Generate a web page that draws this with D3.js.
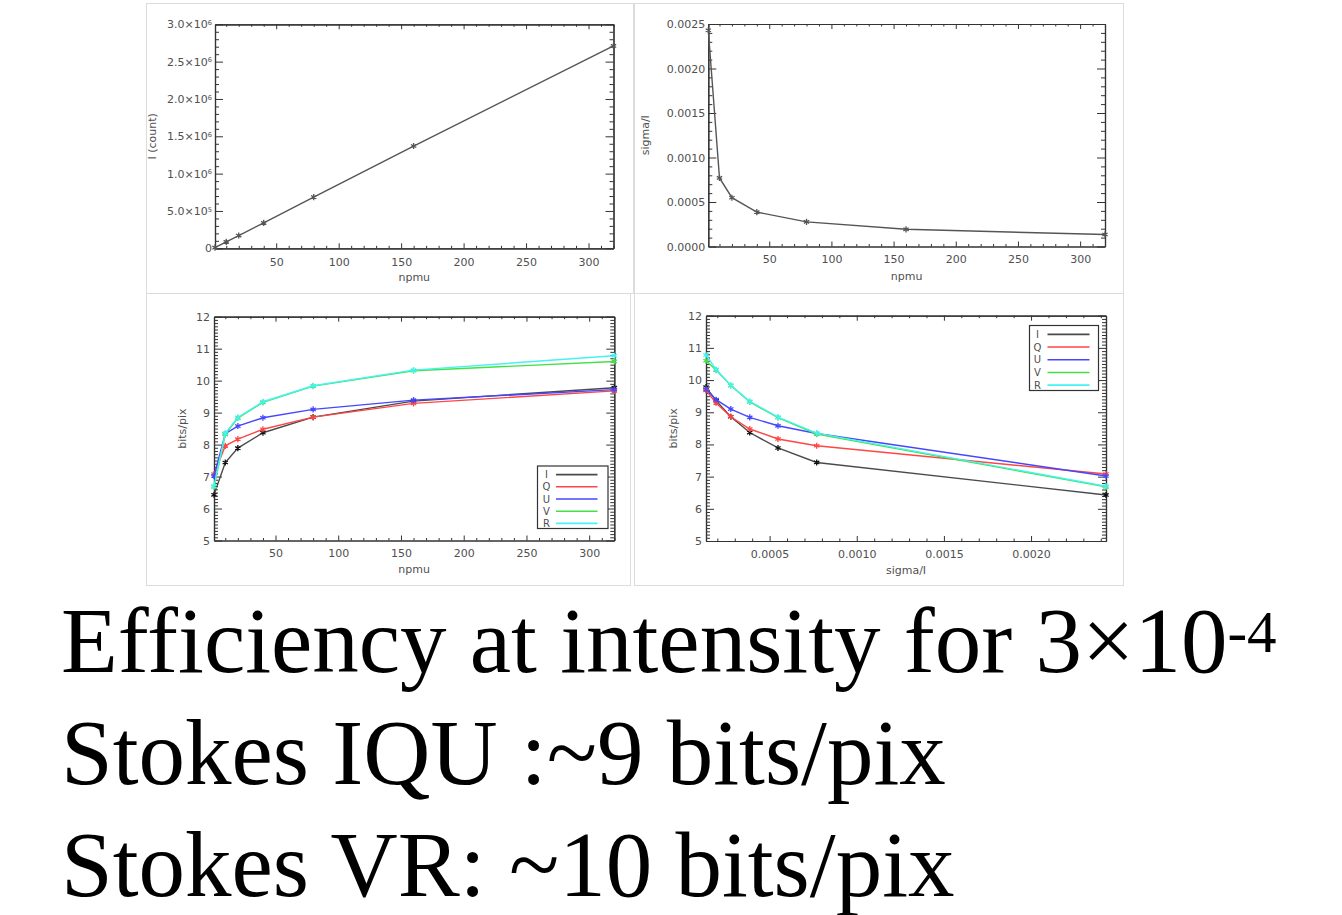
<!DOCTYPE html>
<html>
<head>
<meta charset="utf-8">
<script src="https://cdn.jsdelivr.net/npm/d3@7"></script>
<style>
  body { margin: 0; background: #fff; }
  svg { display: block; }
</style>
</head>
<body>
<svg id="chart" width="1342" height="915"></svg>
<script>
// values
const npmu = [1, 10, 20, 40, 80, 160, 320];
const intensity = [8.6e3, 8.6e4, 1.71e5, 3.4e5, 6.86e5, 1.37e6, 2.71e6];
const sigmaOverI = [0.00243, 0.00077, 0.000548, 0.000386, 0.000277, 0.000193, 0.000135];

const stokesNames = ['I', 'Q', 'U', 'V', 'R'];
const bitsI = [6.43, 7.44, 7.89, 8.37, 8.86, 9.36, 9.78];
const bitsQ = [7.08, 7.96, 8.17, 8.48, 8.86, 9.29, 9.68];
const bitsU = [7.02, 8.34, 8.58, 8.84, 9.10, 9.39, 9.72];
const bitsV = [6.68, 8.32, 8.83, 9.32, 9.83, 10.31, 10.60];
const bitsR = [6.70, 8.35, 8.85, 9.34, 9.84, 10.33, 10.78];
const stokesColors = ['#4a4a4a', '#ff4646', '#4646ff', '#46e046', '#46f2f2'];

const npmuTicks = [50, 100, 150, 200, 250, 300];
const countTicks = [0, 5e5, 1e6, 1.5e6, 2e6, 2.5e6, 3e6];
const sigmaTicks = [0, 0.0005, 0.0010, 0.0015, 0.0020, 0.0025];
const sigmaXTicks = [0.0005, 0.0010, 0.0015, 0.0020];
const bitsTicks = [5, 6, 7, 8, 9, 10, 11, 12];

const summaryLines = ['Efficiency at intensity for 3\u00d710', 'Stokes IQU :~9 bits/pix', 'Stokes VR: ~10 bits/pix'];
const summarySup = '-4';

const svg = d3.select('#chart');
const axisColor = '#333';
const textColor = '#505050';
const sansFont = '"DejaVu Sans", Verdana, sans-serif';

// light frames round each pasted plot
const frames = [
    { x: 146, y: 3, w: 487, h: 290 },
    { x: 634, y: 3, w: 489, h: 290 },
    { x: 146, y: 293, w: 484, h: 292 },
    { x: 634, y: 293, w: 489, h: 292 }
];
svg.selectAll('.frame')
    .data(frames)
    .enter()
    .append('rect')
    .attr('class', 'frame')
    .attr('x', d => d.x + 0.5)
    .attr('y', d => d.y + 0.5)
    .attr('width', d => d.w)
    .attr('height', d => d.h)
    .style('fill', 'none')
    .style('stroke', '#dcdcdc');

function sciFormat(v) {
    if (v === 0) return ['0', ''];
    const e = Math.floor(Math.log10(v) + 1e-9);
    return [(v / Math.pow(10, e)).toFixed(1) + '\u00d710', String(e)];
}

function minorValues(domain, step, major) {
    const lo = Math.ceil(domain[0] / step - 1e-6);
    const hi = Math.floor(domain[1] / step + 1e-6);
    return d3.range(lo, hi + 1).map(k => k * step)
        .filter(v => !major.some(m => Math.abs(m - v) < step * 1e-3));
}

function drawPanel(cfg) {
    const w = cfg.right - cfg.left;
    const h = cfg.bottom - cfg.top;
    const g = svg.append('g').attr('transform', `translate(${cfg.left},${cfg.top})`);

    const x = d3.scaleLinear().domain(cfg.xDomain).range([0, w]);
    const y = d3.scaleLinear().domain(cfg.yDomain).range([h, 0]);

    const xMinor = minorValues(cfg.xDomain, cfg.xMinorStep, cfg.xTicks);
    const yMinor = minorValues(cfg.yDomain, cfg.yMinorStep, cfg.yTicks);

    // IDL style box: ticks inside on all four sides, labels only bottom/left
    const sides = [
        { name: 'bottom', axis: d3.axisBottom, scale: x, tr: `translate(0,${h})`, len: 5, major: cfg.xTicks, minor: xMinor, fmt: cfg.xFormat, pad: cfg.xPad },
        { name: 'top', axis: d3.axisTop, scale: x, tr: 'translate(0,0)', len: 5, major: cfg.xTicks, minor: xMinor, fmt: null },
        { name: 'left', axis: d3.axisLeft, scale: y, tr: 'translate(0,0)', len: 8, major: cfg.yTicks, minor: yMinor, fmt: cfg.yFormat, pad: cfg.yPad },
        { name: 'right', axis: d3.axisRight, scale: y, tr: `translate(${w},0)`, len: 8, major: cfg.yTicks, minor: yMinor, fmt: null }
    ];

    sides.forEach(s => {
        g.append('g')
            .attr('class', 'minor')
            .attr('transform', s.tr)
            .call(s.axis(s.scale).tickValues(s.minor).tickSizeInner(-s.len / 2).tickSizeOuter(0).tickFormat(() => ''));
        const ax = g.append('g')
            .attr('class', 'major axis-' + s.name)
            .attr('transform', s.tr)
            .call(s.axis(s.scale).tickValues(s.major).tickSizeInner(-s.len).tickSizeOuter(0)
                .tickPadding(s.pad || 0).tickFormat(s.fmt ? s.fmt : () => ''));
        ax.attr('font-family', sansFont).attr('font-size', 11);
    });

    g.selectAll('.domain').attr('stroke', axisColor).attr('stroke-width', 1.2);
    g.selectAll('.tick line').attr('stroke', axisColor).attr('stroke-width', 1);
    g.selectAll('.tick text').attr('fill', textColor);

    // scientific labels on the count axis need a superscript exponent
    if (cfg.sciY) {
        g.selectAll('.axis-left .tick text').each(function(d) {
            const t = d3.select(this);
            const parts = sciFormat(d);
            t.text('');
            t.append('tspan').text(parts[0]);
            if (parts[1]) {
                t.append('tspan').attr('dy', '-0.5em').attr('font-size', '0.6em').text(parts[1]);
            }
        });
    }

    // axis titles
    g.append('text')
        .attr('x', w / 2)
        .attr('y', cfg.xTitleY - cfg.top)
        .attr('text-anchor', 'middle')
        .attr('font-family', sansFont)
        .attr('font-size', 11)
        .attr('fill', textColor)
        .text(cfg.xTitle);

    g.append('text')
        .attr('transform', `translate(${cfg.yTitleX - cfg.left},${h / 2}) rotate(-90)`)
        .attr('text-anchor', 'middle')
        .attr('dy', '0.35em')
        .attr('font-family', sansFont)
        .attr('font-size', 11)
        .attr('fill', textColor)
        .text(cfg.yTitle);

    const line = d3.line().x(d => x(d[0])).y(d => y(d[1]));
    const marker = d3.symbol().type(d3.symbolAsterisk || d3.symbolCross).size(26);

    cfg.series.forEach((s, i) => {
        const pts = d3.zip(cfg.xValues, s.values);
        g.append('path')
            .datum(pts)
            .attr('d', line)
            .style('fill', 'none')
            .style('stroke', s.color)
            .style('stroke-width', 1.4);
        g.selectAll(`.mark-${i}`)
            .data(pts)
            .enter()
            .append('path')
            .attr('class', `mark-${i}`)
            .attr('transform', d => `translate(${x(d[0])},${y(d[1])})`)
            .attr('d', marker)
            .style('fill', 'none')
            .style('stroke', s.color === stokesColors[0] ? '#111' : s.color)
            .style('stroke-width', 1.3);
    });

    if (cfg.legend) {
        const lg = svg.append('g').attr('transform', `translate(${cfg.legend.x},${cfg.legend.y})`);
        lg.append('rect')
            .attr('width', cfg.legend.w)
            .attr('height', cfg.legend.h)
            .style('fill', '#fff')
            .style('stroke', axisColor)
            .style('stroke-width', 1.2);
        const row = d3.scaleBand().domain(stokesNames).range([2.5, cfg.legend.h + 1]);
        const items = lg.selectAll('.legend-item')
            .data(cfg.series)
            .enter()
            .append('g')
            .attr('class', 'legend-item')
            .attr('transform', d => `translate(0,${row(d.name) + row.bandwidth() / 2})`);
        items.append('text')
            .attr('x', cfg.legend.labelX)
            .attr('dy', '0.36em')
            .attr('text-anchor', 'middle')
            .attr('font-family', sansFont)
            .attr('font-size', 10)
            .attr('fill', textColor)
            .text(d => d.name);
        items.append('line')
            .attr('x1', cfg.legend.lineX1)
            .attr('x2', cfg.legend.lineX2)
            .style('stroke', d => d.color)
            .style('stroke-width', 1.6);
    }
}

const stokesSeries = [bitsI, bitsQ, bitsU, bitsV, bitsR].map((values, i) => ({
    name: stokesNames[i], values: values, color: stokesColors[i]
}));

const fixed4 = d3.format('.4f');

drawPanel({
    left: 215, right: 613.5, top: 24.3, bottom: 248.3,
    xDomain: [1, 320], yDomain: [0, 3e6],
    xTicks: npmuTicks, yTicks: countTicks, xMinorStep: 10, yMinorStep: 1e5,
    xFormat: d3.format('d'), yFormat: d => String(d), sciY: true, xPad: 10, yPad: 3,
    xTitle: 'npmu', xTitleY: 281, yTitle: 'I (count)', yTitleX: 152,
    xValues: npmu, series: [{ name: 'I', values: intensity, color: '#555' }]
});

drawPanel({
    left: 708.3, right: 1105, top: 24, bottom: 246.5,
    xDomain: [1, 320], yDomain: [0, 0.0025],
    xTicks: npmuTicks, yTicks: sigmaTicks, xMinorStep: 10, yMinorStep: 0.0001,
    xFormat: d3.format('d'), yFormat: fixed4, xPad: 9, yPad: 3,
    xTitle: 'npmu', xTitleY: 280, yTitle: 'sigma/I', yTitleX: 645,
    xValues: npmu, series: [{ name: 'I', values: sigmaOverI, color: '#555' }]
});

drawPanel({
    left: 214, right: 614.3, top: 316.7, bottom: 540.5,
    xDomain: [1, 320], yDomain: [5, 12],
    xTicks: npmuTicks, yTicks: bitsTicks, xMinorStep: 10, yMinorStep: 0.1,
    xFormat: d3.format('d'), yFormat: d3.format('d'), xPad: 9, yPad: 4,
    xTitle: 'npmu', xTitleY: 573, yTitle: 'bits/pix', yTitleX: 182,
    xValues: npmu, series: stokesSeries,
    legend: { x: 537.5, y: 466, w: 70.5, h: 62.5, labelX: 9, lineX1: 18.5, lineX2: 60 }
});

drawPanel({
    left: 706, right: 1106, top: 315.7, bottom: 541,
    xDomain: [0.000135, 0.00243], yDomain: [5, 12],
    xTicks: sigmaXTicks, yTicks: bitsTicks, xMinorStep: 0.0001, yMinorStep: 0.1,
    xFormat: fixed4, yFormat: d3.format('d'), xPad: 9, yPad: 4,
    xTitle: 'sigma/I', xTitleY: 574, yTitle: 'bits/pix', yTitleX: 673,
    xValues: sigmaOverI, series: stokesSeries,
    legend: { x: 1029.5, y: 325.5, w: 69, h: 65, labelX: 8, lineX1: 18, lineX2: 60 }
});

// summary text under the plots
const summary = svg.append('g')
    .attr('font-family', '"Liberation Serif", "Times New Roman", serif')
    .attr('font-size', 93)
    .attr('fill', '#000');

summary.selectAll('text')
    .data(summaryLines)
    .enter()
    .append('text')
    .attr('x', 61)
    .attr('y', (d, i) => 672 + i * 112)
    .each(function(d, i) {
        const t = d3.select(this);
        t.append('tspan').text(d);
        if (i === 0) {
            t.append('tspan').attr('dy', -20).attr('font-size', 59).text(summarySup);
        }
    });
</script>
</body>
</html>
